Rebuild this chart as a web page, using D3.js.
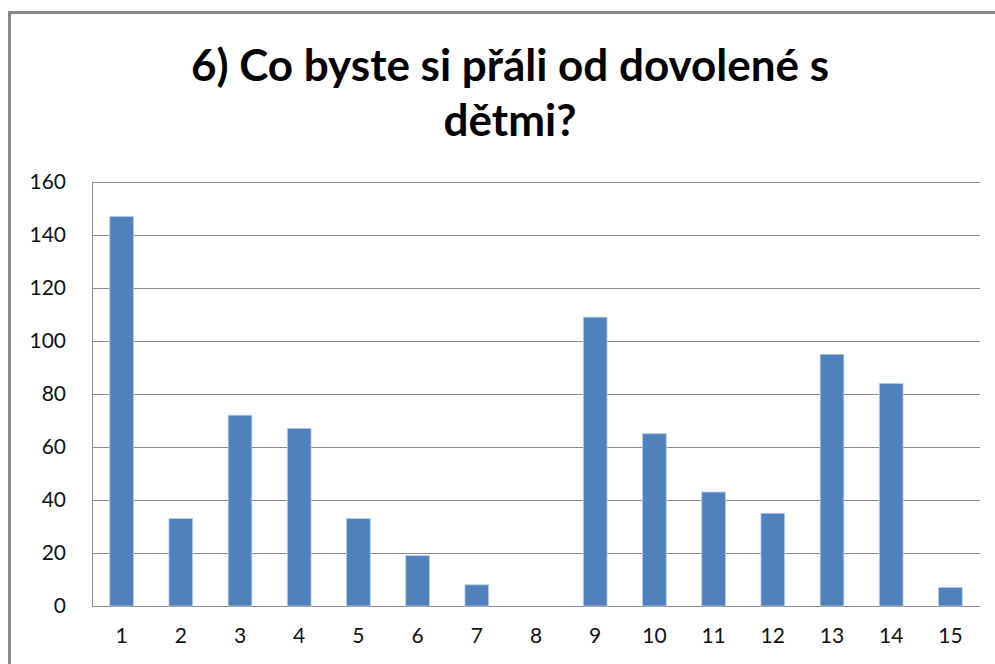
<!DOCTYPE html>
<html>
<head>
<meta charset="utf-8">
<script src="https://cdn.jsdelivr.net/npm/d3@7"></script>
<style>
  html, body { margin: 0; padding: 0; background: #fff; }
  svg { display: block; }
</style>
</head>
<body>
<div id="chart"></div>
<script>
// Otázka 6 — počet odpovědí podle možnosti
const titleLines = ["6) Co byste si přáli od dovolené s", "dětmi?"];
const categories = ["1", "2", "3", "4", "5", "6", "7", "8", "9", "10", "11", "12", "13", "14", "15"];
const counts     = [147, 33, 72, 67, 33, 19, 8, 0, 109, 65, 43, 35, 95, 84, 7];
const yTicks     = [0, 20, 40, 60, 80, 100, 120, 140, 160];

const W = 995, H = 664;
const margin = { top: 182, right: 15, bottom: 58, left: 92 };
const width  = W - margin.left - margin.right;
const height = H - margin.top - margin.bottom;

const svg = d3.select("#chart").append("svg")
    .attr("width", W)
    .attr("height", H);

// ── Frame ──────────────────────────────────────────────────────────────
svg.append("rect")
    .attr("x", 9.5).attr("y", 12.5)
    .attr("width", W + 20).attr("height", H + 20)
    .style("fill", "#fff")
    .style("stroke", "#8a8a8a")
    .style("stroke-width", 3);

// ── Title ──────────────────────────────────────────────────────────────
const title = svg.append("text")
    .attr("x", 510)
    .attr("text-anchor", "middle")
    .style("font-family", "Lato, 'Open Sans', sans-serif")
    .style("font-weight", "700")
    .style("font-size", "44px")
    .style("fill", "#000");

titleLines.forEach((line, i) => {
    title.append("tspan")
        .attr("x", 510)
        .attr("y", 81 + i * 55)
        .text(line);
});

// ── Scales ─────────────────────────────────────────────────────────────
const x = d3.scaleBand()
    .domain(categories)
    .range([0, width])
    .paddingInner(0.6)
    .paddingOuter(0.3);

const y = d3.scaleLinear()
    .domain([0, 160])
    .range([height, 0]);

const g = svg.append("g")
    .attr("transform", `translate(${margin.left},${margin.top})`);

// ── Grid ───────────────────────────────────────────────────────────────
g.append("g")
    .selectAll("line")
    .data(yTicks)
    .join("line")
    .attr("x1", 0).attr("x2", width)
    .attr("y1", d => Math.round(y(d)) + 0.5)
    .attr("y2", d => Math.round(y(d)) + 0.5)
    .style("stroke", "#8c8c8c")
    .style("stroke-width", 1);

// ── Axes ───────────────────────────────────────────────────────────────
const labelFont = "Lato, 'Open Sans', sans-serif";

const yAxis = g.append("g")
    .call(d3.axisLeft(y).tickValues(yTicks).tickSize(0).tickPadding(26));
yAxis.select(".domain").attr("stroke", "#8c8c8c").attr("d", `M0.5,${height}V0`);
yAxis.selectAll("text")
    .style("font-family", labelFont)
    .style("font-size", "21px")
    .style("fill", "#111");

const xAxis = g.append("g")
    .attr("transform", `translate(0,${height})`)
    .call(d3.axisBottom(x).tickSize(0).tickPadding(22));
xAxis.select(".domain").remove();
xAxis.selectAll("text")
    .style("font-family", labelFont)
    .style("font-size", "21px")
    .style("fill", "#111");

// ── Bars ───────────────────────────────────────────────────────────────
g.append("g")
    .selectAll("rect")
    .data(categories.map((c, i) => ({ cat: c, value: counts[i] })))
    .join("rect")
    .filter(d => d.value > 0)
    .attr("x", d => x(d.cat))
    .attr("y", d => y(d.value))
    .attr("width", x.bandwidth())
    .attr("height", d => height - y(d.value))
    .style("fill", "#4f81bd")
    .style("stroke", "#b9cde5")
    .style("stroke-width", 0.8);
</script>
</body>
</html>
